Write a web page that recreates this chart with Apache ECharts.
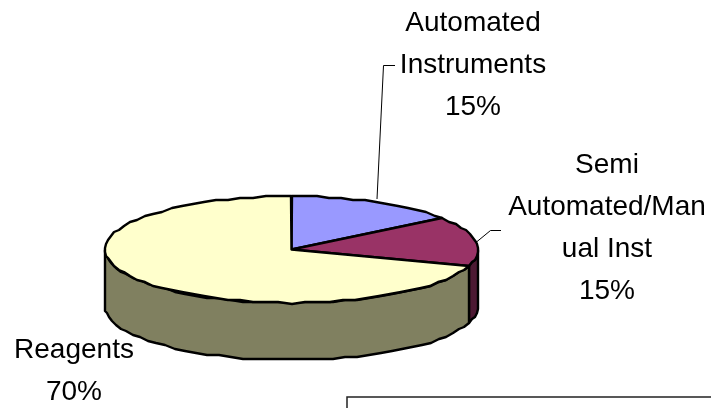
<!DOCTYPE html>
<html><head><meta charset="utf-8">
<style>html,body{margin:0;padding:0;background:#fff}#c{width:711px;height:408px}</style>
<script src="https://cdn.jsdelivr.net/npm/echarts@6/dist/echarts.min.js"></script>
</head><body><div id="c"></div>
<script>
const categories = ['Automated\nInstruments', 'Semi\nAutomated/Man\nual Inst', 'Reagents'];
const shares = [15, 15, 70];
const topColors = ['#9999FF', '#993366', '#FFFFCC'];
const sideColors = ['#4C4C80', '#4D1933', '#808060'];

const PIE = { cx: 291.5, cy: 249.5, rx: 186.5, ry: 53.5, depth: 57 };
const LABELS = [
  { x: 473, y: 65, leader: [[377, 199], [383.5, 65.5], [395, 65.5]] },
  { x: 607, y: 228, leader: [[476.5, 242], [490.5, 230.5], [501, 230.5]] },
  { x: 74, y: 371, leader: null }
];
const total = shares.reduce((a, b) => a + b, 0);

function edge(deg, dy) {
  const t = deg * Math.PI / 180;
  // stepped outline like the faceted polygon of the original 3-D pie
  const x = PIE.cx + PIE.rx * Math.sin(t);
  const y = PIE.cy - PIE.ry * Math.cos(t);
  return [Math.round(x), Math.round(y / 2) * 2 + dy];
}
function arc(a0, a1, dy) {
  const pts = [];
  const n = Math.max(1, Math.ceil((a1 - a0) / 4));
  for (let i = 0; i <= n; i++) pts.push(edge(a0 + (a1 - a0) * i / n, dy));
  return pts;
}
function renderSlice(params, api) {
  const i = params.dataIndex;
  let before = 0;
  for (let k = 0; k < i; k++) before += shares[k];
  const value = api.value(0);
  const a0 = before / total * 360, a1 = (before + value) / total * 360;
  const children = [];
  const stroke = { stroke: '#000', lineWidth: 2.4, lineJoin: 'round' };
  const s0 = Math.max(a0, 90), s1 = Math.min(a1, 270);
  if (s1 > s0) {
    const up = arc(s0, s1, 0), down = arc(s0, s1, PIE.depth).reverse();
    children.push({ type: 'polygon', shape: { points: up.concat(down) },
      style: Object.assign({ fill: sideColors[i] }, stroke) });
  }
  const top = [[PIE.cx, PIE.cy]].concat(arc(a0, a1, 0));
  children.push({ type: 'polygon', shape: { points: top },
    style: Object.assign({ fill: topColors[i] }, stroke) });
  const lab = LABELS[i];
  if (lab.leader) children.push({ type: 'polyline', shape: { points: lab.leader },
    style: { fill: null, stroke: '#000', lineWidth: 1 } });
  children.push({ type: 'text', x: lab.x, y: lab.y, style: {
    text: categories[i] + '\n' + value + '%',
    fill: '#000', font: '28px "Liberation Sans", Arial, sans-serif',
    align: 'center', verticalAlign: 'middle', lineHeight: 42 } });
  return { type: 'group', children };
}
const chart = echarts.init(document.getElementById('c'), null, { renderer: 'canvas' });
chart.setOption({
  animation: false,
  backgroundColor: '#fff',
  graphic: [{ type: 'rect', shape: { x: 347, y: 397, width: 400, height: 40 },
    style: { fill: '#fff', stroke: '#222', lineWidth: 1.5 } }],
  series: [{
    type: 'custom', coordinateSystem: 'none', silent: true,
    data: shares.map(v => [v]),
    renderItem: renderSlice
  }]
});
</script></body></html>
